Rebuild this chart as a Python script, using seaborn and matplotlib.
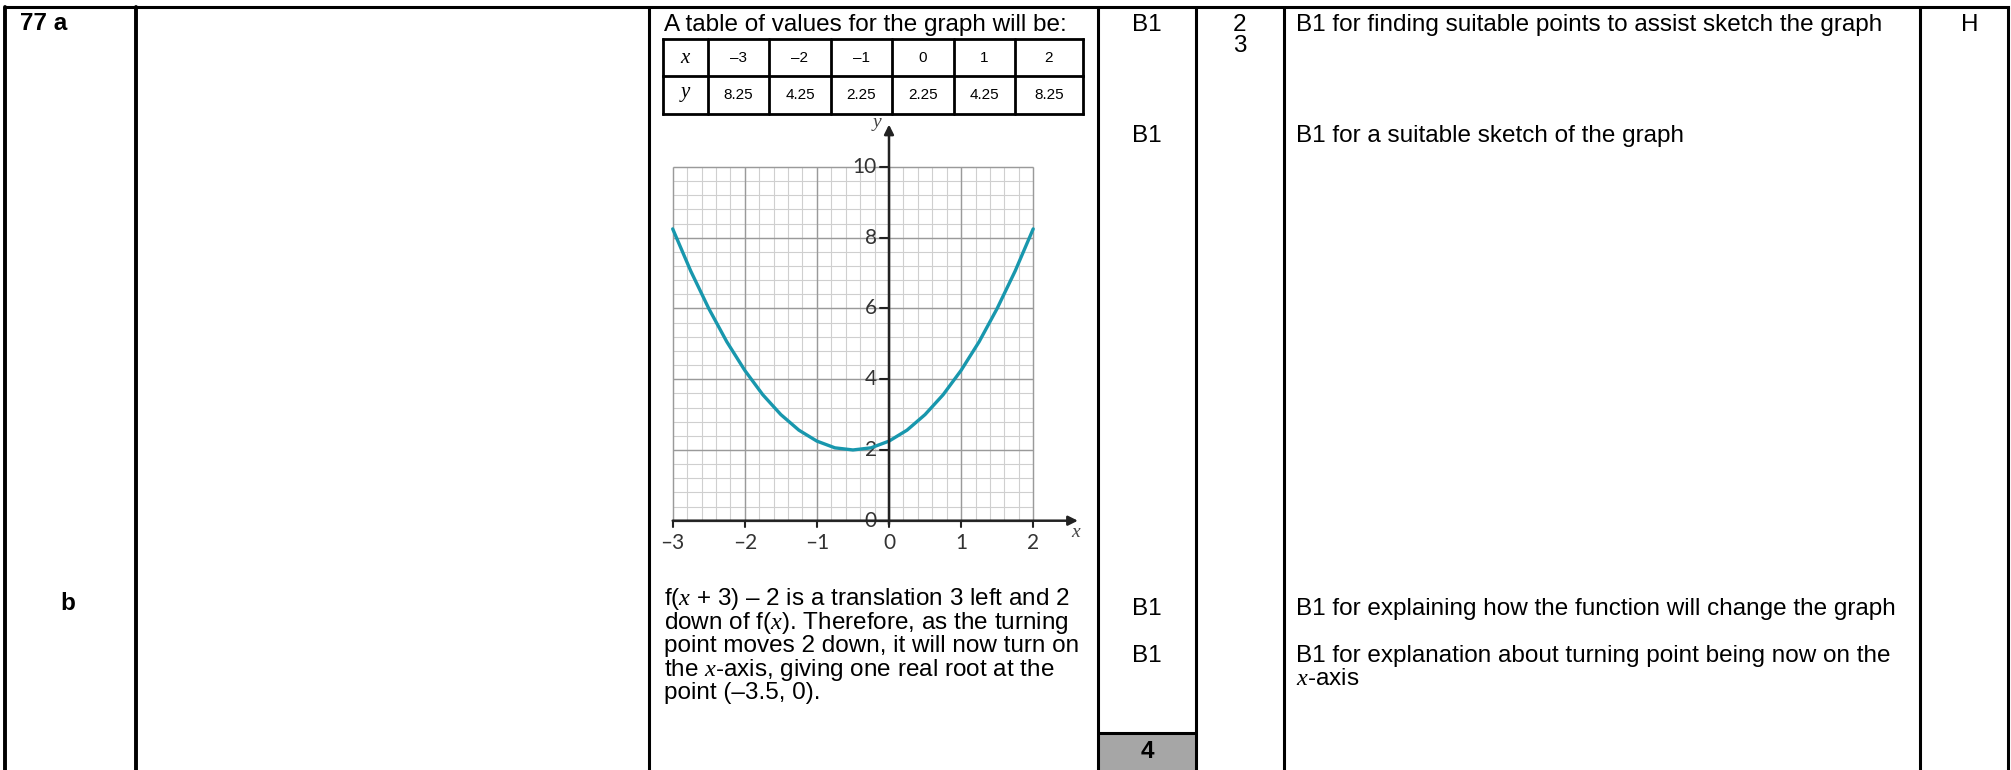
import numpy as np
import pandas as pd
import matplotlib
matplotlib.use("Agg")
import matplotlib.pyplot as plt
import seaborn as sns

# ---- data -------------------------------------------------------------
table_x = [-3, -2, -1, 0, 1, 2]
table_y = [8.25, 4.25, 2.25, 2.25, 4.25, 8.25]

curve_x = [-3.0, -2.75, -2.5, -2.25, -2.0, -1.75, -1.5, -1.25, -1.0, -0.75, -0.5,
           -0.25, 0.0, 0.25, 0.5, 0.75, 1.0, 1.25, 1.5, 1.75, 2.0]
curve_y = [8.25, 7.06, 6.0, 5.06, 4.25, 3.56, 3.0, 2.56, 2.25, 2.06, 2.0,
           2.06, 2.25, 2.56, 3.0, 3.56, 4.25, 5.06, 6.0, 7.06, 8.25]

x_ticks = [-3, -2, -1, 0, 1, 2]
y_ticks = [0, 2, 4, 6, 8, 10]

# ---- style ------------------------------------------------------------
sns.set_style("white")
plt.rcParams["font.family"] = ["Liberation Sans", "DejaVu Sans"]
plt.rcParams["text.color"] = "black"
plt.rcParams["mathtext.fontset"] = "custom"
plt.rcParams["mathtext.it"] = "Liberation Serif:italic"
plt.rcParams["mathtext.rm"] = "Liberation Sans"

W, H = 2011, 770
fig = plt.figure(figsize=(W / 100, H / 100), dpi=100)

# page layer in pixel units
page = fig.add_axes([0, 0, 1, 1])
page.set_xlim(0, W)
page.set_ylim(H, 0)
page.axis("off")

FS = 17.5
LW = 2.2

# outer table frame and column rules
top, bottom = 7, H + 5
cols = [5, 136, 649, 1098, 1196, 1284, 1920, 2008]
page.plot([cols[0], cols[-1]], [top, top], color="black", lw=LW, solid_capstyle="projecting")
for cx in cols:
    page.plot([cx, cx], [top, bottom], color="black", lw=LW + (0.6 if cx in (5, 136) else 0))

c_mark = (cols[3] + cols[4]) / 2
c_ao = (cols[4] + cols[5]) / 2
x_note = cols[5] + 12
c_last = 1970

# shaded total cell
page.fill_between([cols[3], cols[4]], 733, bottom, color="#a6a6a6", zorder=0)
page.plot([cols[3], cols[4]], [733, 733], color="black", lw=LW)
page.text(c_mark, 752, "4", fontsize=FS, fontweight="bold", ha="center", va="center")

# part a
page.text(20, 24, "77 a", fontsize=FS, fontweight="bold", va="center")
page.text(664, 25, "A table of values for the graph will be:", fontsize=FS, va="center")
page.text(c_mark, 25, "B1", fontsize=FS, ha="center", va="center")
page.text(c_ao, 25, "2", fontsize=FS, ha="center", va="center")
page.text(c_ao, 46, "3", fontsize=FS, ha="center", va="center")
page.text(x_note, 25, "B1 for finding suitable points to assist sketch the graph", fontsize=FS, va="center")
page.text(c_last, 25, "H", fontsize=FS, ha="center", va="center")
page.text(c_mark, 136, "B1", fontsize=FS, ha="center", va="center")
page.text(x_note, 136, "B1 for a suitable sketch of the graph", fontsize=FS, va="center")

# small table of values
tcols = [663, 708, 769, 831, 892, 954, 1015, 1083]
trows = [39, 76, 114]
for ty in trows:
    page.plot([tcols[0], tcols[-1]], [ty, ty], color="black", lw=2, solid_capstyle="projecting")
for tx in tcols:
    page.plot([tx, tx], [trows[0], trows[-1]], color="black", lw=2)
page.text((tcols[0] + tcols[1]) / 2, (trows[0] + trows[1]) / 2, "$x$", fontsize=15,
          ha="center", va="center")
page.text((tcols[0] + tcols[1]) / 2, (trows[1] + trows[2]) / 2, "$y$", fontsize=15,
          ha="center", va="center")
for i, (xv, yv) in enumerate(zip(table_x, table_y)):
    cx = (tcols[i + 1] + tcols[i + 2]) / 2
    page.text(cx, (trows[0] + trows[1]) / 2, f"{xv}".replace("-", "\u2013"), fontsize=11,
              ha="center", va="center")
    page.text(cx, (trows[1] + trows[2]) / 2, f"{yv:.2f}", fontsize=11,
              ha="center", va="center")

# part b
page.text(60, 603, "b", fontsize=FS, fontweight="bold", va="center")
para = [
    "f($x$ + 3) \u2013 2 is a translation 3 left and 2",
    "down of f($x$). Therefore, as the turning",
    "point moves 2 down, it will now turn on",
    "the $x$-axis, giving one real root at the",
    "point (\u20133.5, 0).",
]
for k, line in enumerate(para):
    page.text(664, 599 + 23.6 * k, line, fontsize=FS, va="center")
page.text(c_mark, 609, "B1", fontsize=FS, ha="center", va="center")
page.text(c_mark, 656, "B1", fontsize=FS, ha="center", va="center")
page.text(x_note, 609, "B1 for explaining how the function will change the graph", fontsize=FS, va="center")
page.text(x_note, 656, "B1 for explanation about turning point being now on the", fontsize=FS, va="center")
page.text(x_note, 679, "$x$-axis", fontsize=FS, va="center")

# ---- graph ------------------------------------------------------------
ox, oy = 889.0, 520.7      # pixel position of the origin
sx, sy = 72.1, 35.37       # pixels per unit
xlo, xhi, ylo, yhi = -3.3, 2.75, -1.3, 11.4
left_px, right_px = ox + sx * xlo, ox + sx * xhi
top_px, bot_px = oy - sy * yhi, oy - sy * ylo
g = fig.add_axes([left_px / W, 1 - bot_px / H, (right_px - left_px) / W, (bot_px - top_px) / H])

minor_c, major_c = "#cfcfcf", "#9a9a9a"
g.vlines(np.linspace(-3, 2, 26), 0, 10, color=minor_c, lw=0.8, zorder=1)
g.hlines(np.linspace(0, 10, 26), -3, 2, color=minor_c, lw=0.8, zorder=1)
g.vlines(x_ticks, 0, 10, color=major_c, lw=1.0, zorder=1.5)
g.hlines(y_ticks, -3, 2, color=major_c, lw=1.0, zorder=1.5)

df = pd.DataFrame({"x": curve_x, "y": curve_y})
sns.lineplot(data=df, x="x", y="y", ax=g, color="#1897ad", lw=2.4, sort=False, zorder=4)
g.axis("off")
g.patch.set_alpha(0)
g.set_xlim(xlo, xhi)
g.set_ylim(ylo, yhi)

axis_c = "#222222"
g.annotate("", xy=(2.62, 0), xytext=(-3.0, 0),
           arrowprops=dict(arrowstyle="-|>", lw=1.8, color=axis_c, mutation_scale=14,
                           shrinkA=0, shrinkB=0), zorder=5)
g.annotate("", xy=(0, 11.2), xytext=(0, -0.1),
           arrowprops=dict(arrowstyle="-|>", lw=1.8, color=axis_c, mutation_scale=14,
                           shrinkA=0, shrinkB=0), zorder=5)

tick_font = dict(family=["Lato", "DejaVu Sans"], fontsize=15, color="#333333")
for xt in x_ticks:
    g.plot([xt, xt], [0, -0.17], color=axis_c, lw=1.5, zorder=5)
    g.text(xt, -0.62, f"{xt}".replace("-", "\u2013"), ha="center", va="center", **tick_font)
for yt in y_ticks:
    g.plot([-0.13, 0], [yt, yt], color=axis_c, lw=1.5, zorder=5)
    g.text(-0.17, yt, f"{yt}", ha="right", va="center", **tick_font)

g.text(-0.16, 11.2, "$y$", fontsize=14, color="#444444", ha="center", va="center")
g.text(2.6, -0.32, "$x$", fontsize=14, color="#444444", ha="center", va="center")

fig.savefig("out.png", dpi=100)
